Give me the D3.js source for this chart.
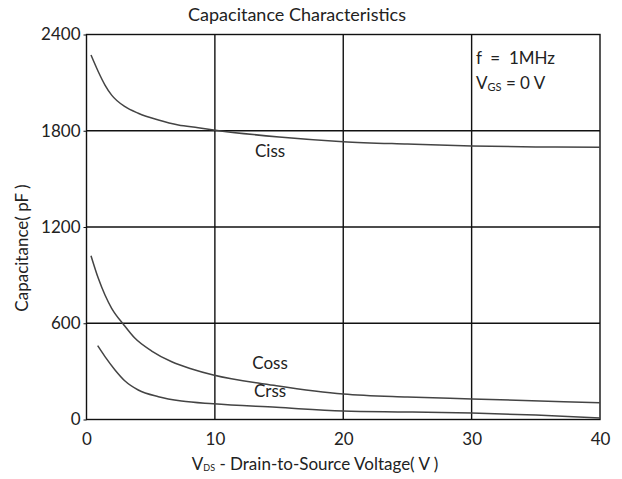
<!DOCTYPE html>
<html><head><meta charset="utf-8">
<script src="https://cdn.jsdelivr.net/npm/d3@7"></script>
<style>body{margin:0;background:#fff}text{font-family:Lato,"Open Sans",sans-serif;fill:#222;white-space:pre}</style>
</head><body><svg id="c" width="622" height="479"></svg>
<script>
const xTicks=[0,10,20,30,40];
const yTicks=[0,600,1200,1800,2400];
const cissV=[0.35,0.92,1.44,1.96,3.0,4.03,5.6,7.15,8.7,9.9,15,20,25,30,35,40];
const cissC=[2272,2168,2085,2022,1950,1909,1867,1836,1819,1805,1761,1732,1717,1705,1699,1697];
const cossV=[0.35,0.92,1.44,1.96,2.87,3.78,5.08,6.64,8.2,9.88,14.8,20,25,30,40];
const cossC=[1021,880,776,693,594,506,427,360,315,277,211,159,140,128,105];
const crssV=[0.87,1.44,2.22,3.0,4.03,5.6,7.4,9.88,14.8,20,25,30,35,40];
const crssC=[460,392,309,240,184,142,115,98,76,53,47,40,28,10];
const seriesNames=["Ciss","Coss","Crss"];

const svg=d3.select("#c");
const x=d3.scaleLinear().domain([0,40]).range([86.5,600]);
const y=d3.scaleLinear().domain([0,2400]).range([419.5,34.5]);

svg.append("g").selectAll("line").data(xTicks.slice(1,-1)).join("line")
 .attr("x1",d=>x(d)).attr("x2",d=>x(d)).attr("y1",y(0)).attr("y2",y(2400))
 .attr("stroke","#111").attr("stroke-width",1.4);
svg.append("g").selectAll("line").data(yTicks.slice(1,-1)).join("line")
 .attr("x1",x(0)).attr("x2",x(40)).attr("y1",d=>y(d)).attr("y2",d=>y(d))
 .attr("stroke","#111").attr("stroke-width",1.4);
svg.append("rect").attr("x",x(0)).attr("y",y(2400)).attr("width",x(40)-x(0)).attr("height",y(0)-y(2400))
 .attr("fill","none").attr("stroke","#111").attr("stroke-width",1.4);

const ax=svg.append("g").attr("transform",`translate(0,${y(0)})`)
 .call(d3.axisBottom(x).tickValues(xTicks).tickSize(0).tickPadding(13));
ax.select(".domain").remove();
ax.selectAll("text").attr("font-size",17).attr("fill","#222").attr("font-family","Lato");
const ay=svg.append("g").attr("transform",`translate(${x(0)},0)`)
 .call(d3.axisLeft(y).tickValues(yTicks).tickFormat(d3.format("d")).tickSize(3).tickPadding(3));
ay.select(".domain").remove();
ay.selectAll("line").attr("stroke","#111");
ay.selectAll("text").attr("font-size",17).attr("fill","#222").attr("font-family","Lato");

const line=d3.line().x(d=>x(d[0])).y(d=>y(d[1])).curve(d3.curveMonotoneX);
const data=[d3.zip(cissV,cissC),d3.zip(cossV,cossC),d3.zip(crssV,crssC)];
svg.append("g").selectAll("path").data(data).join("path")
 .attr("d",line).attr("fill","none").attr("stroke","#444").attr("stroke-width",1.5);

const labPos=[[14.3,1635],[14.3,312],[14.3,140]];
svg.append("g").selectAll("text").data(seriesNames).join("text")
 .attr("x",(d,i)=>x(labPos[i][0])).attr("y",(d,i)=>y(labPos[i][1]))
 .attr("text-anchor","middle").attr("font-size",17).text(d=>d);

svg.append("text").attr("x",297).attr("y",21).attr("text-anchor","middle").attr("font-size",18)
 .text("Capacitance Characteristics");

const ann=svg.append("g");
ann.append("text").attr("x",476).attr("y",64).attr("font-size",17).text("f  =  1MHz");
const t2=ann.append("text").attr("x",476).attr("y",89).attr("font-size",17);
t2.append("tspan").text("V");
t2.append("tspan").attr("font-size",11).attr("dy",2).text("GS");
t2.append("tspan").attr("dy",-2).text(" = 0 V");

const xl=svg.append("text").attr("x",315).attr("y",470).attr("text-anchor","middle").attr("font-size",17);
xl.append("tspan").text("V");
xl.append("tspan").attr("font-size",9).attr("dy",1).text("DS");
xl.append("tspan").attr("dy",-1).text(" - Drain-to-Source Voltage( V )");

svg.append("text").attr("transform","translate(28,248) rotate(-90)").attr("text-anchor","middle")
 .attr("font-size",17).text("Capacitance( pF )");
</script></body></html>
